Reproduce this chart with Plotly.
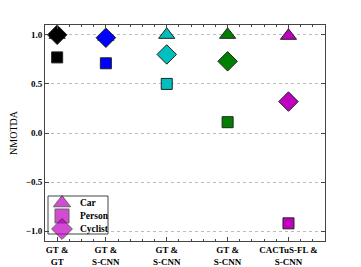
import plotly.graph_objects as go

groups = ["GT &<br>GT", "GT &<br>S-CNN", "GT &<br>S-CNN", "GT &<br>S-CNN", "CACTuS-FL &<br>S-CNN"]
group_x = [1, 5, 10, 15, 20]
group_colors = ["#000000", "#0000ff", "#00bfbf", "#008000", "#bf00bf"]
car = [1.0, 0.98, 1.0, 1.0, 0.99]
person = [0.77, 0.71, 0.50, 0.11, -0.92]
cyclist = [1.0, 0.97, 0.80, 0.73, 0.32]
categories = ["Car", "Person", "Cyclist"]

symbols = ["triangle-up", "square", "diamond"]
sizes = [14, 11, 15]
series_vals = [car, person, cyclist]

XR = [0, 23]
YR = [-1.1, 1.1]

fig = go.Figure()
for i, gx in enumerate(group_x):
    for vals, sym, size in zip(series_vals, symbols, sizes):
        fig.add_trace(go.Scatter(
            x=[gx], y=[vals[i]], mode="markers", showlegend=False, hoverinfo="skip",
            marker=dict(symbol=sym, size=size, color=group_colors[i],
                        line=dict(color="#222", width=1)),
        ))

# compact legend, positioned in plot-area pixel units (W x H = 280 x 216)
PW, PH = 280.0, 216.0
def fx(px):
    return XR[0] + px / PW * (XR[1] - XR[0])
def fy(py):
    return YR[1] - py / PH * (YR[1] - YR[0])

leg_x0, leg_x1, leg_y0, leg_y1 = 3, 63, 171, 209
key_x, text_x = 17, 33
row_y = [178, 191, 204]
fig.add_trace(go.Scatter(
    x=[fx(key_x)] * 3, y=[fy(r) for r in row_y], mode="markers",
    showlegend=False, hoverinfo="skip",
    marker=dict(symbol=symbols, size=[15, 14, 16], color=group_colors[-1],
                line=dict(color="#222", width=1)),
))
fig.add_shape(type="rect", xref="x", yref="y",
              x0=fx(leg_x0), x1=fx(leg_x1), y0=fy(leg_y1), y1=fy(leg_y0),
              fillcolor="white", line=dict(color="#444", width=1), layer="between")
for name, ry in zip(categories, row_y):
    fig.add_annotation(x=fx(text_x), y=fy(ry), xref="x", yref="y",
                       text="<b>" + name + "</b>",
                       showarrow=False, xanchor="left", yanchor="middle",
                       font=dict(family="Liberation Serif", size=9.5, color="#000"))

# page body adds an 8 px offset, so the figure is 8 px smaller than the window
font = dict(family="Liberation Serif", size=9, color="#000")
fig.update_layout(
    width=353, height=259,
    margin=dict(l=37, r=36, t=17, b=26, autoexpand=False),
    paper_bgcolor="white", plot_bgcolor="white",
    font=font,
    showlegend=False,
    xaxis=dict(range=XR, tickmode="array", tickvals=group_x, automargin=False,
               ticktext=["<b>" + g.replace("<br>", "</b><br><b>") + "</b>" for g in groups],
               ticks="inside", ticklen=4, tickcolor="#444",
               showline=True, linecolor="#444", linewidth=1, mirror="ticks",
               showgrid=False, zeroline=False,
               minor=dict(dtick=1, tick0=0, ticks="inside", ticklen=2, tickcolor="#444")),
    yaxis=dict(range=YR, tickmode="array", automargin=False,
               tickvals=[-1.0, -0.5, 0.0, 0.5, 1.0],
               ticktext=["<b>\u22121.0</b>", "<b>\u22120.5</b>", "<b>0.0</b>", "<b>0.5</b>", "<b>1.0</b>"],
               ticks="inside", ticklen=4, tickcolor="#444",
               showline=True, linecolor="#444", linewidth=1, mirror="ticks",
               showgrid=True, gridcolor="#bbb", griddash="dot", gridwidth=1,
               zeroline=False,
               title=dict(text="NMOTDA", font=dict(family="Liberation Serif", size=10), standoff=10)),
)
fig.write_html("out.html")
